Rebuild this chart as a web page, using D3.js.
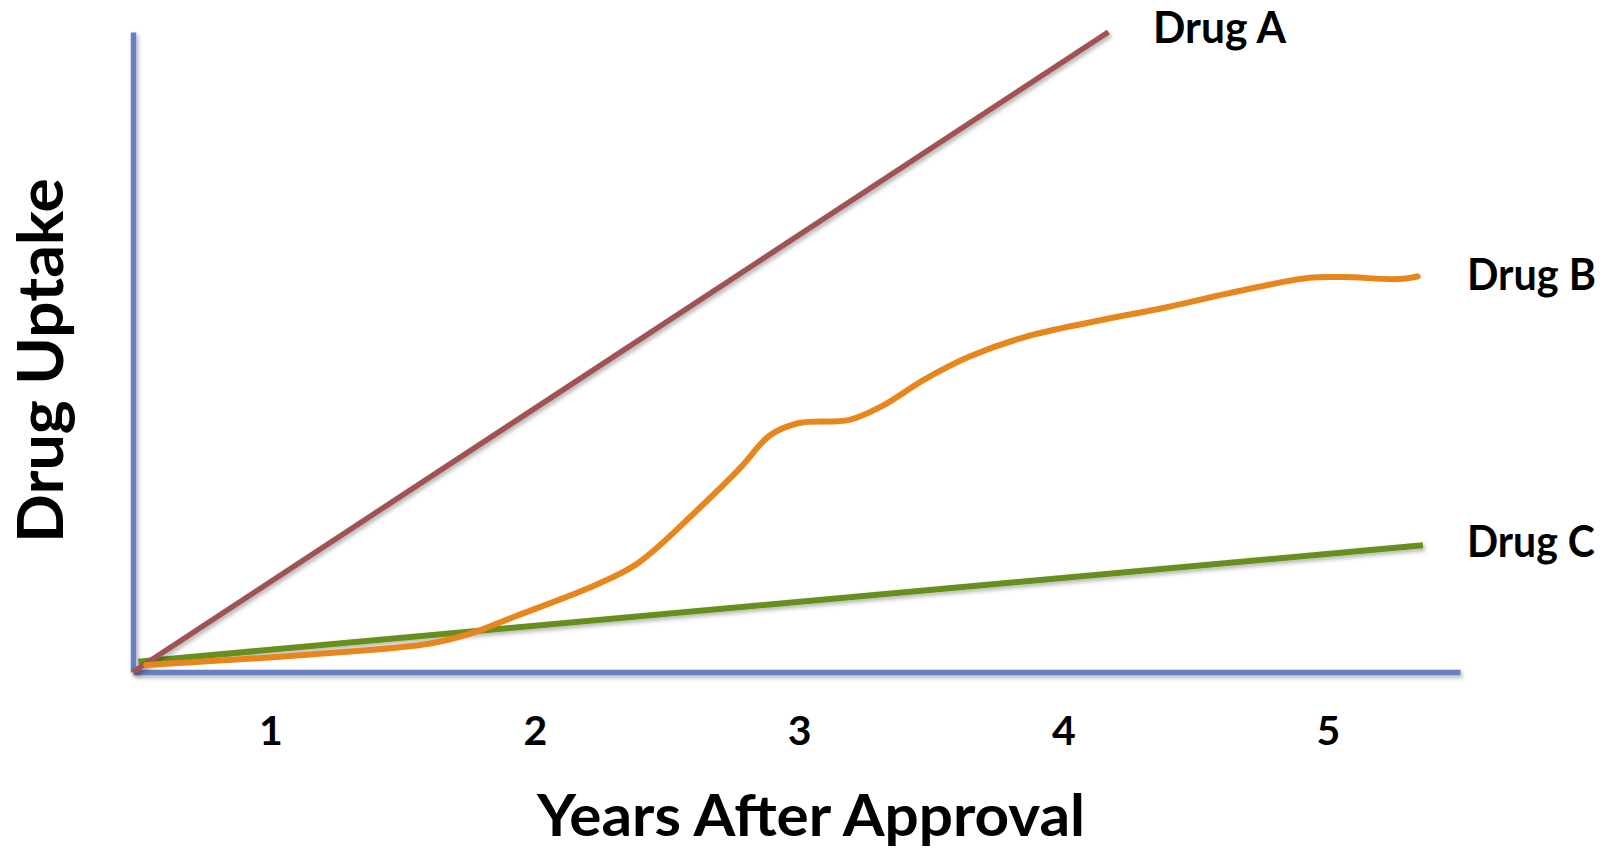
<!DOCTYPE html>
<html>
<head>
<meta charset="utf-8">
<script src="https://cdn.jsdelivr.net/npm/d3@7"></script>
<style>
  html, body { margin: 0; padding: 0; background: #ffffff; }
  svg { display: block; }
  text { font-family: Lato, "Open Sans", "DejaVu Sans", sans-serif; font-weight: 700; fill: #000; }
</style>
</head>
<body>
<svg id="chart" width="1612" height="849"></svg>
<script>
// ---- data ----
const years = [1, 2, 3, 4, 5];
const tickLabels = ["1", "2", "3", "4", "5"];
const seriesNames = ["Drug A", "Drug B", "Drug C"];
const drugA = [[0.48, 0], [4.17, 100]];
const drugB = [
  [0.53, 1.1], [1.14, 2.7], [1.61, 4.5], [1.77, 6.2], [1.92, 8.6],
  [2.23, 13.6], [2.39, 17.0], [2.62, 25.5], [2.78, 32.0], [2.89, 37.0],
  [3.00, 38.9], [3.19, 39.4], [3.32, 41.7], [3.47, 45.6], [3.64, 49.2],
  [3.85, 52.3], [4.12, 54.8], [4.39, 57.0], [4.66, 59.5], [4.93, 61.6],
  [5.06, 61.7], [5.27, 61.4], [5.34, 61.8]
];
const drugC = [[0.5, 1.6], [5.36, 19.8]];
const xTitle = "Years After Approval";
const yTitle = "Drug Uptake";

// ---- layout ----
const svg = d3.select("#chart");
const x = d3.scaleLinear().domain([0.48, 5.5]).range([133, 1460]);
const y = d3.scaleLinear().domain([0, 100]).range([672, 32]);

const defs = svg.append("defs");
const f = defs.append("filter").attr("id", "shadow")
  .attr("filterUnits", "userSpaceOnUse")
  .attr("x", -1000).attr("y", -1000).attr("width", 4000).attr("height", 4000);
f.append("feDropShadow").attr("dx", 2).attr("dy", 2.5).attr("stdDeviation", 2)
  .attr("flood-color", "#000").attr("flood-opacity", 0.3);

// axes
const axisColor = "#6a7fbf";
const xAxis = svg.append("g").attr("transform", `translate(0,${y(0)})`)
  .call(d3.axisBottom(x).tickValues(years).tickFormat((d, i) => tickLabels[i])
    .tickSize(0).tickSizeOuter(0).tickPadding(44));
xAxis.select(".domain").attr("stroke", axisColor).attr("stroke-width", 5.5)
  .attr("filter", "url(#shadow)");
xAxis.selectAll(".tick text").attr("font-size", 41)
  .attr("font-family", "Lato, 'Open Sans', sans-serif").attr("font-weight", 700).attr("fill", "#000");

const yAxis = svg.append("g").attr("transform", `translate(${x(0.48)},0)`)
  .call(d3.axisLeft(y).tickValues([]).tickSize(0).tickSizeOuter(0));
yAxis.select(".domain").attr("stroke", axisColor).attr("stroke-width", 5.5)
  .attr("filter", "url(#shadow)");

// lines
const line = d3.line().x(d => x(d[0])).y(d => y(d[1]));
const smooth = d3.line().x(d => x(d[0])).y(d => y(d[1])).curve(d3.curveCatmullRom.alpha(0.5));

svg.append("path").datum(drugC).attr("d", line)
  .attr("fill", "none").attr("stroke", "#688f1f").attr("stroke-width", 6)
  .attr("filter", "url(#shadow)");
svg.append("path").datum(drugA).attr("d", line)
  .attr("fill", "none").attr("stroke", "#a05253").attr("stroke-width", 5.5)
  .attr("filter", "url(#shadow)");
svg.append("path").datum(drugB).attr("d", smooth)
  .attr("fill", "none").attr("stroke", "#e8861e").attr("stroke-width", 6)
  .attr("stroke-linecap", "round");

// series labels
const labelPos = [
  { name: seriesNames[0], x: 1153, y: 43, w: 133 },
  { name: seriesNames[1], x: 1467, y: 290, w: 129 },
  { name: seriesNames[2], x: 1467, y: 557, w: 128 }
];
labelPos.forEach(l => {
  svg.append("text").attr("x", l.x).attr("y", l.y).attr("font-size", 44)
    .attr("textLength", l.w).attr("lengthAdjust", "spacingAndGlyphs").text(l.name);
});

// axis titles
svg.append("text").attr("x", 811).attr("y", 836).attr("text-anchor", "middle")
  .attr("font-size", 58).attr("textLength", 548).attr("lengthAdjust", "spacingAndGlyphs")
  .text(xTitle);
svg.append("text").attr("transform", "translate(63,360.5) rotate(-90)")
  .attr("text-anchor", "middle").attr("font-size", 63)
  .attr("textLength", 365).attr("lengthAdjust", "spacingAndGlyphs")
  .text(yTitle);
</script>
</body>
</html>
